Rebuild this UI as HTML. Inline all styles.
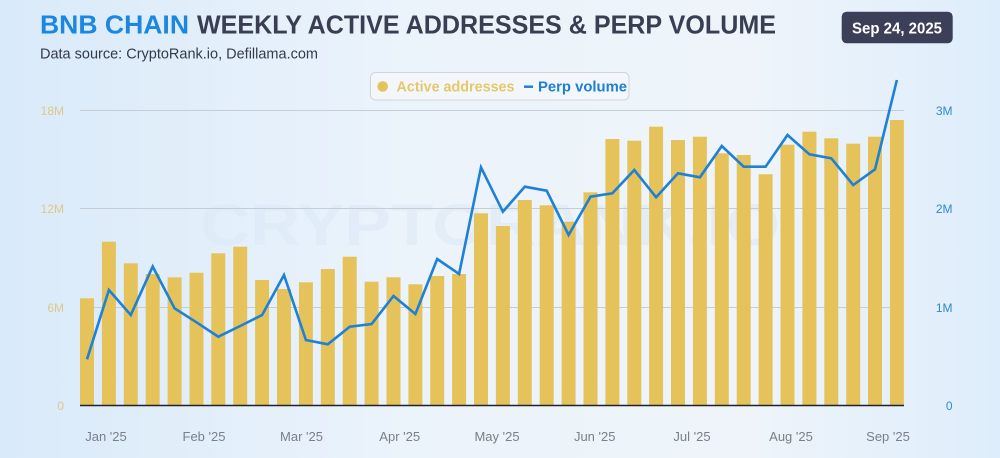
<!DOCTYPE html>
<html><head><meta charset="utf-8"><style>
html,body{margin:0;padding:0;}
body{width:1000px;height:458px;overflow:hidden;}
svg{display:block;}
text{font-family:"Liberation Sans",sans-serif;}
</style></head><body>
<svg width="1000" height="458" viewBox="0 0 1000 458" xmlns="http://www.w3.org/2000/svg">
<defs>
<linearGradient id="bg" x1="0" y1="0" x2="1" y2="0">
<stop offset="0" stop-color="#d9eafa"/>
<stop offset="0.4" stop-color="#ebf3fb"/>
<stop offset="0.75" stop-color="#eef4fa"/>
<stop offset="1" stop-color="#deedfb"/>
</linearGradient>
</defs>
<rect width="1000" height="458" fill="url(#bg)"/>
<text x="490" y="245" font-size="58" font-weight="bold" fill="#dbe8f6" text-anchor="middle" textLength="580" lengthAdjust="spacingAndGlyphs" opacity="0.5">CRYPTORANK.IO</text>

<text x="40" y="33.3" font-size="26" font-weight="bold" fill="#1b87e0" textLength="149" lengthAdjust="spacingAndGlyphs">BNB CHAIN</text>
<text x="197" y="33.3" font-size="26" font-weight="bold" fill="#3a3e52" textLength="579" lengthAdjust="spacingAndGlyphs">WEEKLY ACTIVE ADDRESSES &amp; PERP VOLUME</text>
<text x="40" y="58.3" font-size="14.5" fill="#353a4a" textLength="278" lengthAdjust="spacingAndGlyphs">Data source: CryptoRank.io, Defillama.com</text>

<rect x="841.7" y="11.7" width="111" height="31.6" rx="5" fill="#3b3f58"/>
<text x="852" y="33.3" font-size="16" font-weight="bold" fill="#ffffff" textLength="90" lengthAdjust="spacingAndGlyphs">Sep 24, 2025</text>

<rect x="370.5" y="72.5" width="258.5" height="27.5" rx="5" fill="#f3f7fb" stroke="#cfd6de" stroke-width="1"/>
<circle cx="382.7" cy="86.5" r="5.3" fill="#e6c35a"/>
<text x="396.5" y="91.5" font-size="14.5" font-weight="bold" fill="#e6c86a" textLength="118" lengthAdjust="spacingAndGlyphs">Active addresses</text>
<line x1="524" y1="86.7" x2="533" y2="86.7" stroke="#1e80d6" stroke-width="2.5"/>
<text x="538" y="91.5" font-size="14.5" font-weight="bold" fill="#1e7fd2" textLength="89" lengthAdjust="spacingAndGlyphs">Perp volume</text>

<g stroke="#c6cdd5" stroke-width="1">
<line x1="80" y1="110.5" x2="904" y2="110.5"/>
<line x1="80" y1="208.5" x2="904" y2="208.5"/>
<line x1="80" y1="307.5" x2="904" y2="307.5"/>
</g>

<g font-size="12" fill="#dcc98a" text-anchor="end">
<text x="64" y="115">18M</text>
<text x="64" y="213">12M</text>
<text x="64" y="312">6M</text>
<text x="64" y="410">0</text>
</g>
<g font-size="12" fill="#2b8ad0" text-anchor="end">
<text x="952.5" y="115">3M</text>
<text x="952.5" y="213">2M</text>
<text x="952.5" y="312">1M</text>
<text x="952.5" y="410">0</text>
</g>

<g fill="#e6c35a">
<rect x="80" y="298.3" width="14" height="106.7"/>
<rect x="101.9" y="241.7" width="14" height="163.3"/>
<rect x="123.8" y="263.3" width="14" height="141.7"/>
<rect x="145.7" y="274" width="14" height="131"/>
<rect x="167.6" y="277.3" width="14" height="127.7"/>
<rect x="189.5" y="272.7" width="14" height="132.3"/>
<rect x="211.3" y="253.3" width="14" height="151.7"/>
<rect x="233.2" y="246.7" width="14" height="158.3"/>
<rect x="255.1" y="280" width="14" height="125"/>
<rect x="277" y="289" width="14" height="116"/>
<rect x="298.9" y="282.3" width="14" height="122.7"/>
<rect x="320.8" y="269" width="14" height="136"/>
<rect x="342.7" y="256.7" width="14" height="148.3"/>
<rect x="364.6" y="281.7" width="14" height="123.3"/>
<rect x="386.5" y="277.3" width="14" height="127.7"/>
<rect x="408.4" y="284.3" width="14" height="120.7"/>
<rect x="430.2" y="276" width="14" height="129"/>
<rect x="452.1" y="274" width="14" height="131"/>
<rect x="474" y="213.3" width="14" height="191.7"/>
<rect x="495.9" y="226" width="14" height="179"/>
<rect x="517.8" y="200" width="14" height="205"/>
<rect x="539.7" y="205.3" width="14" height="199.7"/>
<rect x="561.6" y="221.7" width="14" height="183.3"/>
<rect x="583.5" y="192.3" width="14" height="212.7"/>
<rect x="605.4" y="139" width="14" height="266"/>
<rect x="627.3" y="140.7" width="14" height="264.3"/>
<rect x="649.1" y="126.7" width="14" height="278.3"/>
<rect x="671" y="140" width="14" height="265"/>
<rect x="692.9" y="136.7" width="14" height="268.3"/>
<rect x="714.8" y="153.3" width="14" height="251.7"/>
<rect x="736.7" y="155" width="14" height="250"/>
<rect x="758.6" y="174.3" width="14" height="230.7"/>
<rect x="780.5" y="144.7" width="14" height="260.3"/>
<rect x="802.4" y="131.7" width="14" height="273.3"/>
<rect x="824.3" y="138.3" width="14" height="266.7"/>
<rect x="846.2" y="143.7" width="14" height="261.3"/>
<rect x="868" y="136.7" width="14" height="268.3"/>
<rect x="889.9" y="120" width="14" height="285"/>
</g>

<line x1="80" y1="405.5" x2="904" y2="405.5" stroke="#1f2228" stroke-width="1.6"/>

<polyline fill="none" stroke="#1e80d6" stroke-width="2.6" stroke-linejoin="miter" points="87,359.3 108.9,290 130.8,315 152.7,266.5 174.6,308.3 196.5,322.3 218.3,336.7 240.2,326 262.1,315 284,275 305.9,340 327.8,344.3 349.7,326.7 371.6,324 393.5,296 415.4,314 437.2,259 459.1,274 481,167.3 502.9,211.7 524.8,186.7 546.7,190.7 568.6,235 590.5,196.7 612.4,193.3 634.3,170 656.1,197.3 678,173.3 699.9,177.3 721.8,146 743.7,166.7 765.6,166.7 787.5,135 809.4,154.3 831.3,158.3 853.2,185 875,169.3 896.9,80"/>

<g font-size="13" fill="#7a7f8a" text-anchor="middle">
<text x="106" y="441">Jan '25</text>
<text x="204" y="441">Feb '25</text>
<text x="301.5" y="441">Mar '25</text>
<text x="399.7" y="441">Apr '25</text>
<text x="497" y="441">May '25</text>
<text x="594.7" y="441">Jun '25</text>
<text x="692" y="441">Jul '25</text>
<text x="791" y="441">Aug '25</text>
<text x="888" y="441">Sep '25</text>
</g>
</svg>
</body></html>
